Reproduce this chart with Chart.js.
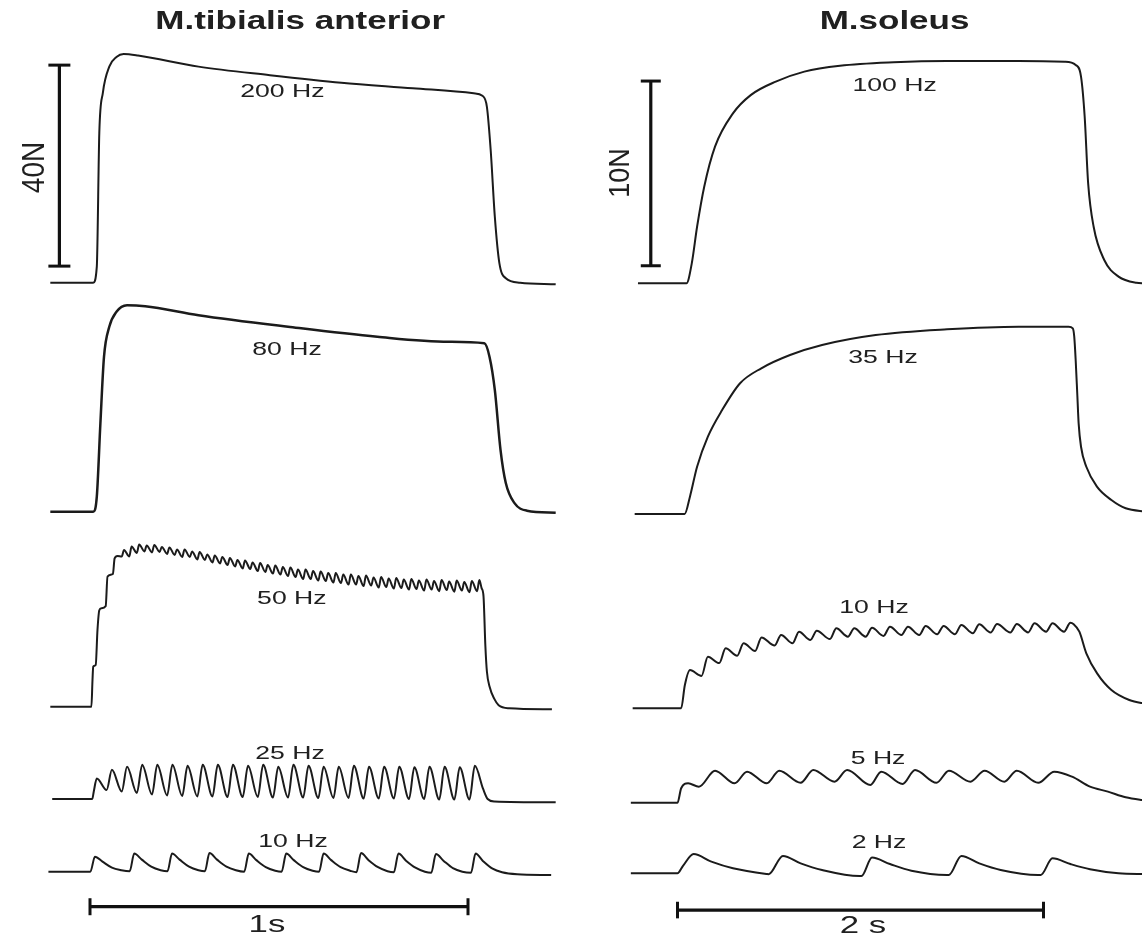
<!DOCTYPE html>
<html>
<head>
<meta charset="utf-8">
<title>Force traces</title>
<script src="https://cdn.jsdelivr.net/npm/chart.js@4.4.1/dist/chart.umd.min.js"></script>
<style>
  html, body { margin: 0; padding: 0; background: #fff; }
  #wrap { position: relative; width: 1142px; height: 937px; overflow: hidden; }
  canvas { position: absolute; top: 0; }
</style>
</head>
<body>
<div id="wrap">
  <canvas id="tibChart" width="571" height="937" style="left:0"></canvas>
  <canvas id="solChart" width="571" height="937" style="left:571px"></canvas>
</div>
<script>
// ---- data: time in s from stimulus onset, force in N above the resting baseline ----

const tibLabels = ['200 Hz', '80 Hz', '50 Hz', '25 Hz', '10 Hz'];
const solLabels = ['100 Hz', '35 Hz', '10 Hz', '5 Hz', '2 Hz'];

const tibForceBarN = 40;
const tibTimeBarS = 1;
const solForceBarN = 10;
const solTimeBarS = 2;

const tib200 = [[-0.105,0],[0.0085,0],[0.018,3.2],[0.0246,29.8],[0.034,37.8],[0.051,43.0],[0.070,44.9],[0.089,45.5],
  [0.127,45.2],[0.287,43.0],[0.476,41.3],[0.665,39.8],[0.854,38.7],[1.015,37.7],[1.038,37.2],[1.050,35.0],
  [1.060,26.4],[1.071,13.1],[1.083,3.9],[1.100,0.9],[1.138,0],[1.232,-0.3]];

const tib80 = [[-0.105,0],[0.0085,0],[0.018,3.0],[0.0275,17.6],[0.037,30.8],[0.051,36.8],[0.070,39.8],[0.098,41.1],
  [0.146,40.9],[0.287,39.1],[0.524,36.8],[0.760,34.8],[0.949,33.8],[1.043,33.5],[1.057,30.8],[1.071,24.2],
  [1.086,12.3],[1.100,5.7],[1.123,1.7],[1.156,0.2],[1.232,-0.2]];

const tib50 = [[-0.105,0],[0.0037,0],[0.0066,5.3],[0.0085,8.0],[0.0151,8.3],[0.0198,15.3],[0.0246,19.2],[0.0302,19.6],
  [0.0415,20.0],[0.0463,25.9],[0.0606,26.4],[0.0651,29.5],[0.0728,30.0],
  [0.084,29.9],[0.090,31.2],[0.104,29.9],[0.110,31.9],[0.124,30.6],[0.130,32.3],[0.144,30.9],[0.150,32.1],
  [0.164,30.7],[0.170,32.2],[0.184,30.8],[0.190,31.8],[0.204,30.4],[0.210,31.7],[0.224,30.2],[0.230,31.3],
  [0.244,29.8],[0.250,31.3],[0.264,29.8],[0.270,30.9],[0.284,29.3],[0.290,30.8],[0.304,29.2],[0.310,30.3],
  [0.324,28.7],[0.330,30.1],[0.344,28.5],[0.350,29.8],[0.364,28.2],[0.370,29.6],[0.384,27.9],[0.390,29.2],
  [0.404,27.5],[0.410,29.1],[0.424,27.4],[0.430,28.7],[0.444,27.0],[0.450,28.6],[0.464,26.8],[0.470,28.2],
  [0.484,26.5],[0.490,28.1],[0.504,26.3],[0.510,27.8],[0.524,26.0],[0.530,27.7],[0.544,25.8],[0.550,27.3],
  [0.564,25.4],[0.570,27.3],[0.584,25.4],[0.590,27.0],[0.604,25.1],[0.610,26.9],[0.624,25.0],[0.630,26.6],
  [0.644,24.7],[0.650,26.6],[0.664,24.6],[0.670,26.3],[0.684,24.3],[0.690,26.3],[0.704,24.3],[0.710,26.0],
  [0.724,24.0],[0.730,26.1],[0.744,24.1],[0.750,25.7],[0.764,23.7],[0.770,25.8],[0.784,23.8],[0.790,25.5],
  [0.804,23.5],[0.810,25.6],[0.824,23.6],[0.830,25.3],[0.844,23.3],[0.850,25.4],[0.864,23.4],[0.870,25.1],
  [0.884,23.1],[0.890,25.3],[0.904,23.3],[0.910,25.0],[0.924,23.0],[0.930,25.2],[0.944,23.2],[0.950,24.9],
  [0.964,22.9],[0.970,25.1],[0.984,23.1],[0.990,24.8],[1.004,22.8],[1.010,25.0],[1.024,23.0],[1.030,25.2],
  [1.036,23.6],[1.041,22.0],[1.046,12.0],[1.050,7.0],[1.057,4.0],[1.070,1.5],[1.081,0.3],[1.109,-0.3],[1.222,-0.5]];

const tib25 = [[-0.100,0],[0.006,0],[0.010,1.5],[0.018,4.1],[0.044,1.8],[0.058,5.8],[0.084,1.5],[0.098,6.4],
  [0.124,1.2],[0.138,6.8],[0.164,0.9],[0.178,6.8],[0.204,0.7],[0.218,6.8],[0.244,0.6],[0.258,6.6],
  [0.284,0.5],[0.298,6.8],[0.324,0.5],[0.338,6.8],[0.364,0.4],[0.378,6.8],[0.404,0.4],[0.418,6.6],
  [0.444,0.4],[0.458,6.8],[0.484,0.3],[0.498,6.4],[0.524,0.3],[0.538,6.8],[0.564,0.3],[0.578,6.6],
  [0.604,0.2],[0.618,6.4],[0.644,0.2],[0.658,6.4],[0.684,0.2],[0.698,6.6],[0.724,0.1],[0.738,6.4],
  [0.764,0.1],[0.778,6.4],[0.804,0.1],[0.818,6.4],[0.844,0.0],[0.858,6.3],[0.884,0.0],[0.898,6.4],
  [0.924,-0.1],[0.938,6.4],[0.964,-0.1],[0.978,6.3],[1.004,-0.1],[1.018,6.6],
  [1.040,2.0],[1.052,0.0],[1.070,-0.5],[1.232,-0.66]];

const tib10 = [[-0.110,0],[0.001,0],[0.013,3.0],[0.033,2.0],[0.058,0.8],[0.083,0.3],[0.105,0.1],[0.117,3.6],
  [0.137,2.4],[0.162,1.0],[0.187,0.3],[0.205,0.1],[0.217,3.6],[0.237,2.4],[0.262,1.0],[0.287,0.3],
  [0.304,0.1],[0.316,3.7],[0.336,2.4],[0.361,1.0],[0.386,0.3],[0.408,0.0],[0.420,3.6],[0.440,2.3],
  [0.465,0.9],[0.490,0.2],[0.507,0.0],[0.519,3.6],[0.539,2.3],[0.564,0.9],[0.589,0.2],[0.606,0.0],
  [0.618,3.6],[0.638,2.3],[0.663,0.9],[0.688,0.2],[0.705,-0.1],[0.717,3.7],[0.737,2.3],[0.762,0.9],
  [0.787,0.1],[0.804,-0.1],[0.816,3.6],[0.836,2.2],[0.861,0.8],[0.886,0.0],[0.903,-0.2],[0.915,3.5],
  [0.935,2.2],[0.960,0.7],[0.985,0.0],[1.008,-0.2],[1.020,3.6],[1.040,2.1],[1.065,0.6],[1.090,-0.1],
  [1.130,-0.5],[1.220,-0.66]];

const sol100 = [[-0.216,0],[0.049,0],[0.078,1.08],[0.107,3.06],[0.146,5.23],[0.205,7.40],[0.303,9.20],
  [0.400,10.19],[0.537,10.92],[0.693,11.46],[0.888,11.78],[1.181,11.97],[1.473,12.04],[1.864,12.04],
  [2.117,12.00],[2.176,11.82],[2.205,11.19],[2.225,9.02],[2.244,5.41],[2.274,3.06],[2.332,1.26],
  [2.410,0.36],[2.508,0.03],[2.560,0]];

const sol35 = [[-0.234,0],[0.039,0],[0.068,0.94],[0.107,2.56],[0.166,4.19],[0.244,5.63],[0.342,7.08],
  [0.458,7.89],[0.615,8.61],[0.790,9.15],[1.083,9.69],[1.473,10.00],[1.864,10.14],[2.137,10.14],
  [2.160,10.05],[2.168,9.60],[2.176,8.30],[2.185,6.40],[2.192,4.91],[2.205,3.64],[2.234,2.56],
  [2.292,1.48],[2.371,0.76],[2.449,0.31],[2.566,0.12]];

const sol10 = [[-0.245,0],[0.020,0],[0.040,1.25],[0.068,2.07],[0.131,1.75],[0.166,2.79],[0.228,2.45],
  [0.263,3.25],[0.326,2.85],[0.361,3.52],[0.424,3.10],[0.459,3.84],[0.531,3.40],[0.566,3.97],
  [0.629,3.52],[0.664,4.15],[0.726,3.70],[0.761,4.20],[0.833,3.75],[0.868,4.33],[0.931,3.88],
  [0.966,4.33],[1.028,3.88],[1.063,4.36],[1.126,3.92],[1.161,4.42],[1.224,3.97],[1.259,4.42],
  [1.321,3.97],[1.356,4.46],[1.419,4.01],[1.454,4.46],[1.516,4.01],[1.551,4.51],[1.614,4.06],
  [1.649,4.55],[1.711,4.10],[1.746,4.56],[1.819,4.11],[1.854,4.56],[1.916,4.11],[1.951,4.60],
  [2.014,4.15],[2.049,4.60],[2.112,4.15],[2.147,4.63],[2.165,4.55],[2.196,4.15],[2.234,2.98],
  [2.293,1.89],[2.371,0.99],[2.469,0.45],[2.566,0.23]];

const sol5 = [[-0.255,0],[0.000,0],[0.020,0.78],[0.058,1.05],[0.117,0.87],[0.205,1.73],[0.312,1.05],
  [0.380,1.68],[0.488,1.05],[0.556,1.73],[0.673,1.08],[0.742,1.77],[0.858,1.14],[0.927,1.77],
  [1.054,0.96],[1.113,1.68],[1.230,1.01],[1.298,1.77],[1.415,1.08],[1.483,1.73],[1.601,1.14],
  [1.678,1.73],[1.786,1.14],[1.854,1.73],[1.971,1.08],[2.059,1.68],[2.156,1.41],[2.254,0.87],
  [2.352,0.60],[2.449,0.29],[2.566,0.11]];

const sol2 = [[-0.255,0],[0.000,0],[0.030,0.40],[0.088,1.04],[0.185,0.63],[0.303,0.27],[0.488,-0.04],
  [0.498,-0.05],[0.576,0.94],[0.673,0.54],[0.790,0.18],[0.995,-0.15],[1.005,-0.15],[1.063,0.85],
  [1.161,0.50],[1.278,0.14],[1.473,-0.09],[1.483,-0.09],[1.551,0.94],[1.649,0.54],[1.766,0.18],
  [1.971,-0.09],[1.985,-0.09],[2.049,0.81],[2.147,0.50],[2.254,0.22],[2.410,0],[2.566,-0.05]];

// ---- layout: pixel geometry of each panel and where the annotations sit ----

const PAGE_H = 937;
const INK = '#1b1b1b';

const tibLayout = {
  canvasLeft: 0, width: 571, originPx: 90, pxPerSec: 378, pxPerN: 5.025,
  rowBaseY: [282.7, 511.7, 706.7, 799, 871.7],
  labelAt: [[0.509, 37.9], [0.521, 32.2], [0.534, 21.4], [0.529, 9.0], [0.537, 6.0]],
  title: { text: 'M.tibialis anterior', t: 0.556, y: 22 },
  forceBar: { t: -0.081, from: 3.3, cap: 11, textT: -0.143, textY: 167.5, fontPx: 28 },
  timeBar: { from: 0, level: -6.97, cap: 8.5, textT: 0.468, textY: 925, text: '1s' }
};

const solLayout = {
  canvasLeft: 571, width: 571, originPx: 677.5, pxPerSec: 183, pxPerN: 18.47,
  rowBaseY: [283.3, 514, 708.3, 802.7, 873.3],
  labelAt: [[1.186, 10.69], [1.123, 8.47], [1.074, 5.46], [1.096, 2.39], [1.101, 1.64]],
  title: { text: 'M.soleus', t: 1.186, y: 22 },
  forceBar: { t: -0.146, from: 0.95, cap: 10, textT: -0.309, textY: 173, fontPx: 27 },
  timeBar: { from: 0, level: -1.99, cap: 8.3, textT: 1.014, textY: 926, text: '2 s' }
};

function stretchedText(ctx, text, x, y, font, sx) {
  ctx.save();
  ctx.translate(x, y);
  ctx.scale(sx, 1);
  ctx.font = font;
  ctx.fillStyle = '#202020';
  ctx.textAlign = 'center';
  ctx.textBaseline = 'middle';
  ctx.fillText(text, 0, 0);
  ctx.restore();
}

function buildPanel(canvasId, layout, traces, labels, forceN, timeS) {
  const offsets = layout.rowBaseY.map(b => (PAGE_H - b) / layout.pxPerN);

  const datasets = traces.map((pts, i) => ({
    data: pts.map(([t, f]) => ({ x: t, y: f + offsets[i] })),
    borderColor: INK,
    borderWidth: i === 1 && layout === tibLayout ? 2.5 : 2,
    pointRadius: 0,
    cubicInterpolationMode: 'monotone',
    fill: false,
    clip: false
  }));

  // calibration bars
  const fb = layout.forceBar;
  datasets.push({
    data: [{ x: fb.t, y: fb.from + offsets[0] }, { x: fb.t, y: fb.from + forceN + offsets[0] }],
    borderColor: '#111', borderWidth: 3.2, tension: 0,
    pointStyle: 'line', pointRadius: fb.cap, pointBorderWidth: 3, pointBorderColor: '#111',
    pointRotation: 0, clip: false
  });
  const tb = layout.timeBar;
  const last = offsets.length - 1;
  datasets.push({
    data: [{ x: tb.from, y: tb.level + offsets[last] }, { x: tb.from + timeS, y: tb.level + offsets[last] }],
    borderColor: '#111', borderWidth: 3.2, tension: 0,
    pointStyle: 'line', pointRadius: tb.cap, pointBorderWidth: 3, pointBorderColor: '#111',
    pointRotation: 90, clip: false
  });

  const annotations = {
    id: 'annotations',
    afterDatasetsDraw(chart) {
      const ctx = chart.ctx;
      const xs = chart.scales.x, ys = chart.scales.y;

      labels.forEach((txt, i) => {
        const [t, f] = layout.labelAt[i];
        stretchedText(ctx, txt, xs.getPixelForValue(t), ys.getPixelForValue(f + offsets[i]),
          '19px "Liberation Sans", Arial, sans-serif', 1.4);
      });

      stretchedText(ctx, layout.title.text, xs.getPixelForValue(layout.title.t), layout.title.y,
        'bold 25px "Liberation Sans", Arial, sans-serif', 1.4);

      stretchedText(ctx, tb.text, xs.getPixelForValue(tb.textT), tb.textY,
        '24px "Liberation Sans", Arial, sans-serif', 1.45);

      // rotated force label next to the vertical bar
      ctx.save();
      ctx.translate(xs.getPixelForValue(fb.textT), fb.textY);
      ctx.scale(1.1, 1);
      ctx.rotate(-Math.PI / 2);
      ctx.font = fb.fontPx + 'px "Liberation Sans", Arial, sans-serif';
      ctx.fillStyle = '#202020';
      ctx.textAlign = 'center';
      ctx.textBaseline = 'middle';
      ctx.fillText(forceN + 'N', 0, 0);
      ctx.restore();
    }
  };

  return new Chart(document.getElementById(canvasId), {
    type: 'line',
    data: { datasets },
    options: {
      responsive: false,
      animation: false,
      events: [],
      // the panel maps straight onto the canvas, no room kept for point markers
      layout: { padding: 0, autoPadding: false },
      plugins: { legend: { display: false }, tooltip: { enabled: false } },
      scales: {
        x: {
          type: 'linear', display: false,
          min: (layout.canvasLeft - layout.originPx) / layout.pxPerSec,
          max: (layout.canvasLeft + layout.width - layout.originPx) / layout.pxPerSec
        },
        y: { type: 'linear', display: false, min: 0, max: PAGE_H / layout.pxPerN }
      }
    },
    plugins: [annotations]
  });
}

buildPanel('tibChart', tibLayout, [tib200, tib80, tib50, tib25, tib10], tibLabels, tibForceBarN, tibTimeBarS);
buildPanel('solChart', solLayout, [sol100, sol35, sol10, sol5, sol2], solLabels, solForceBarN, solTimeBarS);
</script>
</body>
</html>
